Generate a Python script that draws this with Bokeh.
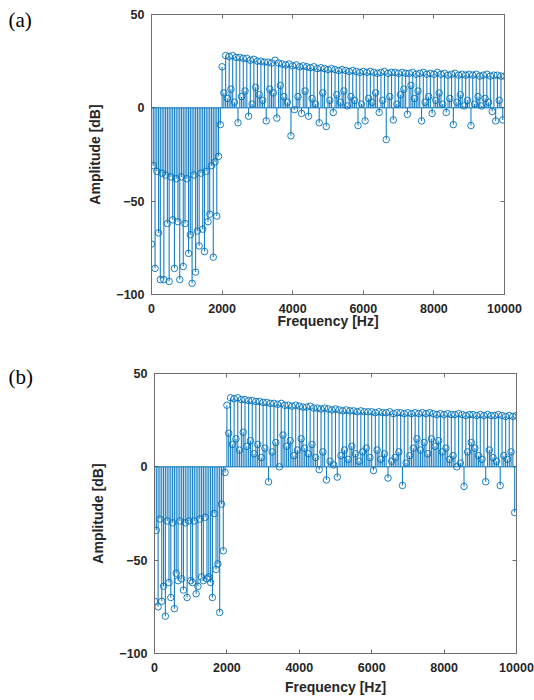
import numpy as np
from bokeh.plotting import figure
from bokeh.layouts import column, row
from bokeh.models import Range1d, FixedTicker, LinearAxis, Span, Label, ColumnDataSource
from bokeh.embed import file_html
from bokeh.resources import INLINE

# ---------------- data ----------------
# Band 0..1950 Hz (step 50 Hz): mixed envelope (~-30 dB) and deep notches
band_a = [-73, -31, -86, -34, -67, -92, -35, -92, -36, -62,
          -93, -37, -60, -86, -38, -61, -92, -37, -85, -62,
          -38, -78, -68, -94, -36, -88, -66, -74, -35, -65,
          -77, -34, -61, -57, -31, -80, -29, -58, -26, -9]
# Upper envelope 2000..10000 Hz (step 100 Hz)
env_a = [22, 28, 27.5, 28, 27, 27, 26.5, 26.5, 25.5, 26, 25,
         25, 24.5, 24.5, 24, 25.5, 24, 23.5, 23, 23.5, 22.5,
         23, 22, 22.5, 22, 21.5, 22, 21, 21.5, 21, 20.5,
         21, 20.5, 20, 20.5, 20, 19.5, 20, 19.5, 19, 19.5,
         19, 19.5, 19, 18.5, 19, 19.5, 18.5, 19, 19, 18.5,
         19, 18.5, 18.5, 19, 18, 18.5, 19, 18, 18.5, 18,
         19, 18, 18.5, 17.5, 18, 18.5, 17.5, 18, 17.5, 18,
         17.5, 18, 17, 17.5, 18, 17, 17.5, 17.5, 17, 17]
# Lower components 2050..9950 Hz (step 100 Hz)
low_a = [8, 5, 10, 3, -8, 6, 9, -4.5, 2, 11,
         7, 4, -7, 10, 8, -5.5, 12, 6, 3, -15,
         -1, 6, -3, 9, -4.5, 5, 2, -8, 8, -10,
         4, -2.5, 7, 3, 9, 1, 6, 4, -9.5, 2,
         -7, 5, 3, 8, -2.5, 4, -17, 6, -6.5, 2,
         7, 10, -3.5, 12, 5, 9, -7, 3, 6, -3,
         4, 8, 2, -2.5, 5, -9, 3, 7, 1, 4,
         -9.5, 2, 6, 1, 5, 3, -2, -7, 4, -6.5]

band_b = [-72, -34, -75, -28, -72, -64, -80, -29, -62, -70,
          -30, -76, -57, -61, -29, -60, -66, -30, -70, -29,
          -61, -62, -29, -68, -64, -28, -59, -61, -27, -60,
          -59, -62, -70, -25, -55, -52, -78, -20, -45, -3]
env_b = [33, 37, 36.5, 37, 36, 36, 35.5, 35.5, 35, 35, 34.5,
         34.5, 34, 34, 33.5, 34, 33, 33, 32.5, 33, 32.5,
         32, 32, 32.5, 31.5, 31.5, 31, 31.5, 31, 30.5, 31,
         30.5, 30, 30.5, 30, 30, 29.5, 30, 29.5, 29.5, 29.5,
         29, 29.5, 29, 29, 29.5, 28.5, 29, 29, 28.5, 29,
         28.5, 29, 28.5, 29, 28.5, 29, 28.5, 28, 28.5, 28,
         28.5, 28, 28, 28.5, 28, 27.5, 28, 28, 27.5, 28,
         27.5, 28, 27.5, 27.5, 28, 27.5, 27, 27.5, 27, 27.5]
low_b = [18, 12, 15, 9, 18.5, 11, 14, 7, 12, 5,
         10, -8, 8, 13, 0, 17, 11, 14, 6, 9,
         15, 10, 7, 12, 5, -1.5, 8, -7, 3, 1,
         -5.5, 6, 9, 4, 11, 7, 3, 8, 10, 5,
         -2, 9, 4, 7, -6, 3, 5, 8, -10, 2,
         6, 10, 15, 9, 13, 7, 15, 11, 14, 8,
         10, 4, 6, 0, 2, -10.5, 8, 13, 10, 6,
         4, -8, 9, 5, 3, -10, 6, 4, 8, -24.5]

x_ticks = [0, 2000, 4000, 6000, 8000, 10000]
y_ticks = [-100, -50, 0, 50]

# frequency grids
f_band = np.arange(0, 2000, 50)
f_env = np.arange(2000, 10001, 100)
f_low = np.arange(2050, 10000, 100)

BLUE = "#0072BD"
GRAY = "#6e6e6e"
TXT = "#262626"


def panel(band, env, low, width, height, left, right, top, bottom, tag,
          tick_standoff, label_standoff):
    p = figure(width=width, height=height,
               min_border_left=left, min_border_right=right,
               min_border_top=top, min_border_bottom=bottom,
               x_range=Range1d(0, 10000), y_range=Range1d(-100, 50),
               output_backend="svg", toolbar_location=None,
               background_fill_color="white", border_fill_color="white")
    p.xgrid.visible = False
    p.ygrid.visible = False
    p.outline_line_color = GRAY
    p.outline_line_width = 1

    xs = np.concatenate([f_band, f_env, f_low])
    ys = np.concatenate([np.array(band, float), np.array(env, float), np.array(low, float)])
    src = ColumnDataSource(dict(x=xs, y=ys, y0=np.zeros_like(ys)))

    p.add_layout(Span(location=0, dimension="width", line_color=BLUE, line_width=1))
    p.segment(x0="x", y0="y0", x1="x", y1="y", source=src,
              line_color=BLUE, line_width=1.1, line_alpha=0.9)
    p.scatter(x="x", y="y", source=src, marker="circle", size=6.5,
              fill_color=None, line_color=BLUE, line_width=0.9)

    xt = FixedTicker(ticks=x_ticks)
    yt = FixedTicker(ticks=y_ticks)
    p.xaxis.ticker = xt
    p.yaxis.ticker = yt
    p.xaxis.axis_label = "Frequency [Hz]"
    p.yaxis.axis_label = "Amplitude [dB]"
    for ax in (p.xaxis[0], p.yaxis[0]):
        ax.major_tick_in = 4
        ax.major_tick_out = 0
        ax.minor_tick_in = 0
        ax.minor_tick_out = 0
        ax.axis_line_color = GRAY
        ax.major_tick_line_color = GRAY
        ax.major_label_text_font = "Liberation Sans"
        ax.major_label_text_font_style = "bold"
        ax.major_label_text_font_size = "12.5px"
        ax.major_label_text_color = TXT
        ax.axis_label_text_font = "Liberation Sans"
        ax.axis_label_text_font_style = "bold"
        ax.axis_label_text_font_size = "14px"
        ax.axis_label_text_color = TXT
    p.yaxis.major_label_standoff = 7
    p.yaxis.axis_label_standoff = 10
    p.xaxis.major_label_standoff = tick_standoff
    p.xaxis.axis_label_standoff = label_standoff

    for loc, tk in (("above", xt), ("right", yt)):
        ax = LinearAxis(ticker=tk, major_tick_in=4, major_tick_out=0,
                        minor_tick_in=0, minor_tick_out=0,
                        major_label_text_font_size="1px", major_label_text_color=None,
                        major_label_standoff=0,
                        axis_line_color=GRAY, major_tick_line_color=GRAY)
        p.add_layout(ax, loc)

    # panel tag placed in the left border (outside the frame), data units
    x_tag = -left / (width - left - right) * 10000 + 8 / (width - left - right) * 10000
    p.add_layout(Label(x=x_tag, y=50, text=tag, text_font="Liberation Serif",
                       text_font_size="21px", text_baseline="middle",
                       text_align="left", text_color="black",
                       y_offset=-5 if tag == "(a)" else -3), "left")
    return p


pa = panel(band_a, env_a, low_a, 534, 340, 151, 30, 14, 46, "(a)", 9, -3)
pb = panel(band_b, env_b, low_b, 534, 360, 154, 18, 33, 47, "(b)", 9, 4)

layout = column(row(pa), row(pb), spacing=0)
open("out.html", "w").write(file_html(layout, INLINE))
